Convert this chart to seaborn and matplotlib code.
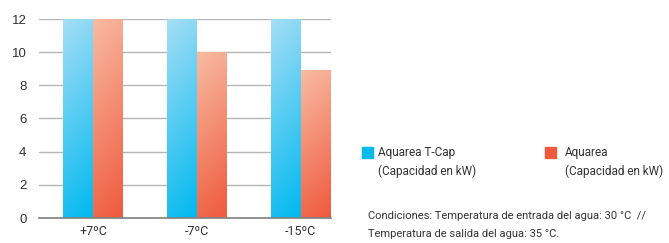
import numpy as np
import pandas as pd
import seaborn as sns
import matplotlib.pyplot as plt
from matplotlib.colors import LinearSegmentedColormap

# data
categories = ['+7ºC', '-7ºC', '-15ºC']
tcap_values = [12, 12, 12]
aquarea_values = [12, 10, 8.9]
series_names = ['Aquarea T-Cap', 'Aquarea']

df = pd.DataFrame({
    'temp': categories * 2,
    'kw': tcap_values + aquarea_values,
    'serie': [series_names[0]] * 3 + [series_names[1]] * 3,
})

blue_top, blue_bot = '#a6def6', '#00b9ef'
red_top, red_bot = '#f8bba2', '#ef5a3d'

sns.set_style('white')
plt.rcParams['font.family'] = ['Liberation Sans', 'DejaVu Sans']
narrow = ['Liberation Sans Narrow', 'Roboto', 'DejaVu Sans']

fig = plt.figure(figsize=(6.69, 2.43), dpi=100)
ax = fig.add_axes([39 / 669, 25 / 243, 292 / 669, 199 / 243])

sns.barplot(data=df, x='temp', y='kw', hue='serie', palette=[blue_bot, red_bot],
            width=0.57, dodge=True, legend=False, ax=ax, saturation=1, errorbar=None)

# gradient fill for every bar
tops = {blue_bot: blue_top, red_bot: red_top}
for i, p in enumerate(ax.patches):
    fc = blue_bot if i < 3 else red_bot
    cmap = LinearSegmentedColormap.from_list('g', [fc, tops[fc]])
    x0, y0 = p.get_x(), p.get_y()
    w, h = p.get_width(), p.get_height()
    yy, xx = np.mgrid[0:1:100j, 0:1:20j]
    grad = yy * 0.85 + (1 - xx) * 0.15
    im = ax.imshow(grad, cmap=cmap, origin='lower', aspect='auto',
                   extent=[x0, x0 + w, y0, y0 + h], zorder=3)
    im.set_clip_path(p)
    p.set_edgecolor('none')

ax.set_xlim(-0.52, 2.29)
ax.set_ylim(0, 12)
ax.set_yticks(range(0, 13, 2))
ax.yaxis.grid(True, color='#b5b5b5', linewidth=1)
ax.set_axisbelow(True)
for s in ['top', 'right', 'left']:
    ax.spines[s].set_visible(False)
ax.spines['bottom'].set_color('#808080')
ax.spines['bottom'].set_linewidth(1.2)
ax.spines['bottom'].set_zorder(4)
ax.tick_params(axis='both', length=0)
ax.tick_params(axis='y', pad=9, labelsize=9.5, labelcolor='#333333')
ax.tick_params(axis='x', pad=5, labelcolor='#333333')
for lab in ax.get_xticklabels():
    lab.set_family(narrow)
    lab.set_fontsize(9)
ax.set_xlabel('')
ax.set_ylabel('')

# legend
fig.patches.append(plt.Rectangle((362 / 669, 1 - 158 / 243), 11 / 669, 11 / 243,
                                 transform=fig.transFigure, color=blue_bot))
fig.patches.append(plt.Rectangle((545 / 669, 1 - 158 / 243), 11 / 669, 11 / 243,
                                 transform=fig.transFigure, color=red_bot))
tk = dict(family=narrow, fontsize=8.5, color='#333333', va='center')
fig.text(378 / 669, 1 - 152 / 243, 'Aquarea T-Cap', **tk)
fig.text(378 / 669, 1 - 171 / 243, '(Capacidad en kW)', **tk)
fig.text(565 / 669, 1 - 152 / 243, 'Aquarea', **tk)
fig.text(565 / 669, 1 - 171 / 243, '(Capacidad en kW)', **tk)
tk['fontsize'] = 8
fig.text(368 / 669, 1 - 216 / 243, 'Condiciones: Temperatura de entrada del agua: 30 °C  //', **tk)
fig.text(368 / 669, 1 - 234 / 243, 'Temperatura de salida del agua: 35 °C.', **tk)

fig.savefig('out.png', dpi=100)
